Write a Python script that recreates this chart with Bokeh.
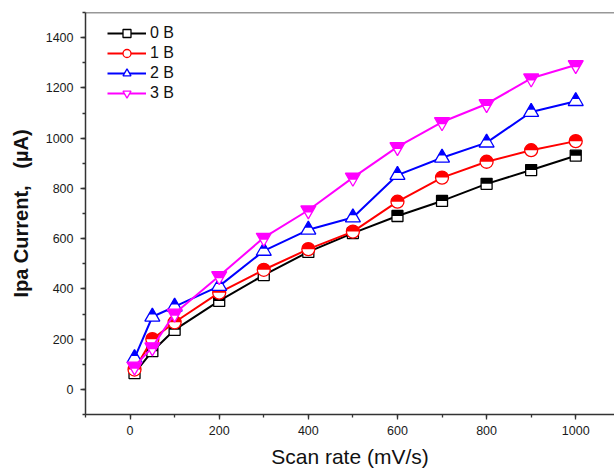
import numpy as np
from bokeh.plotting import figure
from bokeh.models import Range1d, SingleIntervalTicker, Legend, LegendItem, Span
from bokeh.embed import file_html
from bokeh.resources import INLINE

# ---------------- data ----------------
scan_rate = [10, 50, 100, 200, 300, 400, 500, 600, 700, 800, 900, 1000]
ipa_0B = [65, 152, 237, 352, 455, 547, 622, 690, 750, 818, 873, 930]
ipa_1B = [79, 200, 267, 385, 476, 558, 628, 747, 843, 906, 952, 988]
ipa_2B = [124, 289, 329, 411, 551, 635, 684, 853, 922, 982, 1104, 1147]
ipa_3B = [91, 168, 302, 451, 604, 713, 843, 965, 1064, 1136, 1238, 1291]
series_labels = ["0 B", "1 B", "2 B", "3 B"]

# ---------------- layout ----------------
X0, X1 = -100, 1087
Y0, Y1 = -100, 1500
FW, FH = 529, 402
xs_px = FW / (X1 - X0)   # px per data unit
ys_px = FH / (Y1 - Y0)

p = figure(frame_width=FW, frame_height=FH,
           x_range=Range1d(X0, X1), y_range=Range1d(Y0, Y1),
           output_backend="svg", toolbar_location=None,
           min_border_left=85, min_border_right=0,
           min_border_top=12, min_border_bottom=54)
p.outline_line_color = None
p.grid.visible = False
p.background_fill_color = "white"
p.border_fill_color = "white"

axis_col = "#333333"
for ax in (p.xaxis[0], p.yaxis[0]):
    ax.axis_line_color = axis_col
    ax.axis_line_width = 1.5
    ax.major_tick_line_color = axis_col
    ax.minor_tick_line_color = axis_col
    ax.major_tick_line_width = 1.3
    ax.minor_tick_line_width = 1.3
    ax.major_tick_in = 0
    ax.major_tick_out = 5
    ax.minor_tick_in = 0
    ax.minor_tick_out = 3
    ax.major_label_text_font = "Liberation Sans"
    ax.major_label_text_font_size = "12.5px"
    ax.major_label_text_color = "#1a1a1a"
    ax.axis_label_text_color = "#111111"
    ax.axis_label_text_font = "Liberation Sans"

p.xaxis[0].ticker = SingleIntervalTicker(interval=200, num_minor_ticks=2)
p.yaxis[0].ticker = SingleIntervalTicker(interval=200, num_minor_ticks=2)
p.xaxis[0].major_label_standoff = 6
p.yaxis[0].major_label_standoff = 7
p.xaxis[0].axis_label = "Scan rate (mV/s)"
p.xaxis[0].axis_label_text_font_size = "21px"
p.xaxis[0].axis_label_text_font_style = "normal"
p.xaxis[0].axis_label_standoff = 7
p.yaxis[0].axis_label = "Ipa Current,\u00a0\u00a0 (\u00b5A)"
p.yaxis[0].axis_label_text_font_size = "20px"
p.yaxis[0].axis_label_text_font_style = "bold"
p.yaxis[0].axis_label_standoff = 11

p.add_layout(Span(location=Y1, dimension="width", line_color=axis_col, line_width=1.5))

# ---------------- marker top-half shapes (pixel offsets, y up) ----------------
def shape_square(s):
    r = s / 2
    return [(-r, 0), (r, 0), (r, r), (-r, r)]

def shape_circle(s):
    r = s / 2
    a = np.linspace(0, np.pi, 19)
    return list(zip(r * np.cos(a), r * np.sin(a)))

def shape_triangle(s):
    r = s / 2
    h = r * np.sqrt(3)
    return [(0, 2 * h / 3), (r / 2, h / 6), (-r / 2, h / 6)]

def shape_inv_triangle(s):
    r = s / 2
    h = r * np.sqrt(3)
    return [(-r, h / 3), (r, h / 3), (r / 2, -h / 6), (-r / 2, -h / 6)]

series = [
    (ipa_0B, "black", "square", 11, shape_square),
    (ipa_1B, "#ff0000", "circle", 13, shape_circle),
    (ipa_2B, "#0000ff", "triangle", 15, shape_triangle),
    (ipa_3B, "#ff00ff", "inverted_triangle", 15, shape_inv_triangle),
]

items = []
for (vals, col, marker, size, shp), lab in zip(series, series_labels):
    ln = p.line(scan_rate, vals, line_color=col, line_width=2)
    sc = p.scatter(scan_rate, vals, marker=marker, size=size,
                   fill_color="white", line_color=col, line_width=1.3)
    off = shp(size)
    pxs = [[x + dx / xs_px for dx, dy in off] for x in scan_rate]
    pys = [[y + dy / ys_px for dx, dy in off] for y in vals]
    p.patches(pxs, pys, fill_color=col, line_color=None)
    items.append(LegendItem(label=lab, renderers=[ln, sc]))

legend = Legend(items=items, location=(22, 311), padding=0, margin=0, spacing=0,
                glyph_height=20, glyph_width=39, label_height=20, label_standoff=4,
                label_text_font="Liberation Sans", label_text_font_size="16px",
                label_text_color="#111111",
                border_line_color=None, background_fill_alpha=0)
p.add_layout(legend)

open("out.html", "w").write(file_html(p, INLINE))
